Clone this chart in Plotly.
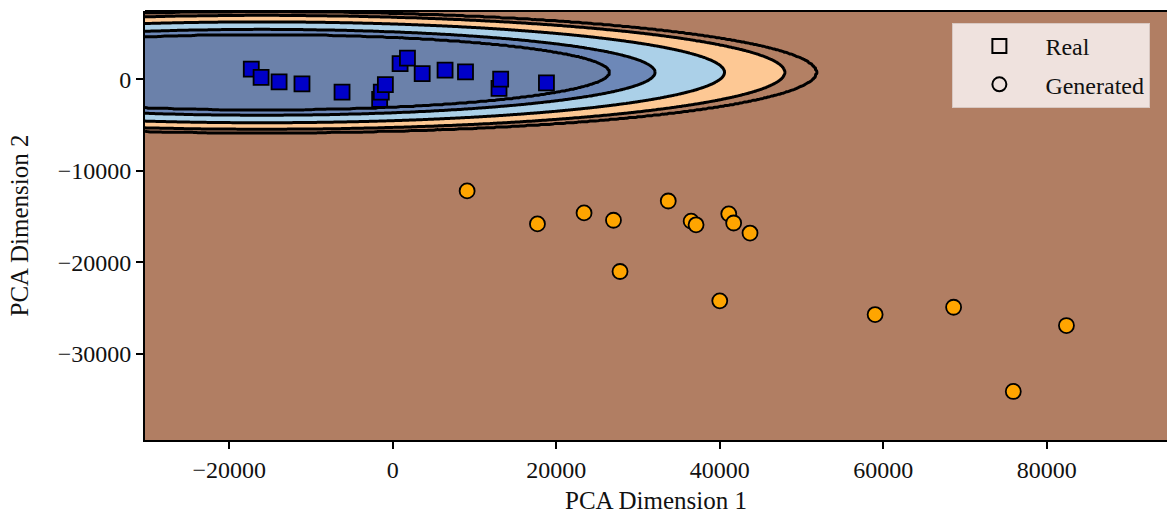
import numpy as np
import plotly.graph_objects as go

# ---- data ----
real_x = [-17300, -16100, -13900, -11100, -6200, -1600, -1400, -900,
          900, 1800, 3600, 6400, 8900, 13000, 13200, 18800]
real_y = [1100, 200, -300, -500, -1400, -2200, -1400, -600,
          1700, 2300, 600, 1000, 800, -1000, 0, -400]

gen_x = [9100, 17700, 23400, 27000, 27800, 33700, 36500, 37100,
         41100, 41700, 43700, 40000, 59000, 68600, 75900, 82400]
gen_y = [-12200, -15800, -14600, -15400, -21000, -13300, -15500, -15900,
         -14700, -15700, -16800, -24200, -25700, -24900, -34100, -26900]

prob_levels = [0.01, 0.05, 0.5, 0.95, 0.99]
x_ticks = [-20000, 0, 20000, 40000, 60000, 80000]
y_ticks = [0, -10000, -20000, -30000]
x_range = [-30300, 94700]
y_range = [-39400, 7450]

band_colors = ["#b17e63", "#b38064", "#fdc894", "#abd0e8", "#6d88b8", "#6b81aa"]

FONT = "Liberation Serif, Times New Roman, serif"

# ---- Gaussian naive-Bayes style probability field from the two classes ----
def fit(xs, ys):
    a = np.array([xs, ys], dtype=float)
    return a.mean(axis=1), a.var(axis=1)

mu_r, var_r = fit(real_x, real_y)
mu_g, var_g = fit(gen_x, gen_y)

gx = np.linspace(x_range[0], x_range[1], 600)
gy = np.linspace(y_range[0], y_range[1], 500)
X, Y = np.meshgrid(gx, gy)

def loglik(mu, var):
    return (-0.5 * (((X - mu[0]) ** 2) / var[0] + ((Y - mu[1]) ** 2) / var[1])
            - 0.5 * np.log(var[0] * var[1]))

L = (loglik(mu_r, var_r) + np.log(len(real_x))
     - loglik(mu_g, var_g) - np.log(len(gen_x)))
pl = np.array(prob_levels)
logit_levels = np.log(pl / (1 - pl))
Z = np.interp(L, np.concatenate([[-25.0], logit_levels, [25.0]]),
              np.arange(len(prob_levels) + 2, dtype=float))

n = len(band_colors)
colorscale = [[i / (n - 1), c] for i, c in enumerate(band_colors)]

fig = go.Figure()
fig.add_trace(go.Contour(
    x=gx, y=gy, z=Z,
    autocontour=False,
    contours=dict(start=1, end=len(prob_levels), size=1, coloring="fill"),
    colorscale=colorscale,
    line=dict(color="black", width=3),
    showscale=False, hoverinfo="skip", showlegend=False,
))

fig.add_trace(go.Scatter(
    x=real_x, y=real_y, mode="markers", showlegend=False,
    marker=dict(symbol="square", size=15, color="#0000c8",
                line=dict(color="black", width=1.8)),
))
fig.add_trace(go.Scatter(
    x=gen_x, y=gen_y, mode="markers", showlegend=False,
    marker=dict(symbol="circle", size=15, color="#ffa500",
                line=dict(color="black", width=1.8)),
))

# legend entries (hollow markers)
fig.add_trace(go.Scatter(
    x=[None], y=[None], mode="markers", name="Real", legendgroup="a",
    marker=dict(symbol="square", size=14, color="rgba(0,0,0,0)",
                line=dict(color="black", width=2)),
))
fig.add_trace(go.Scatter(
    x=[None], y=[None], mode="markers", name="Generated", legendgroup="b",
    marker=dict(symbol="circle", size=14, color="rgba(0,0,0,0)",
                line=dict(color="black", width=2)),
))

def fmt(v):
    return str(v).replace("-", "\u2212")

axis_common = dict(
    showline=True, linecolor="black", linewidth=2, mirror=False,
    ticks="outside", ticklen=7, tickwidth=1.5, tickcolor="black",
    showgrid=False, zeroline=False,
    tickfont=dict(family=FONT, size=24, color="#111111"),
)

fig.update_layout(
    width=1167, height=515,
    margin=dict(l=145, r=0, t=11, b=75),
    paper_bgcolor="white", plot_bgcolor=band_colors[0],
    xaxis=dict(range=x_range, tickvals=x_ticks, ticktext=[fmt(v) for v in x_ticks],
               title=dict(text="PCA Dimension 1", font=dict(family=FONT, size=25, color="#111111"),
                          standoff=10),
               **axis_common),
    yaxis=dict(range=y_range, tickvals=y_ticks, ticktext=[fmt(v) for v in y_ticks],
               title=dict(text="PCA Dimension 2", font=dict(family=FONT, size=25, color="#111111"),
                          standoff=22),
               **axis_common),
    legend=dict(
        x=0.79, y=0.972, xanchor="left", yanchor="top",
        bgcolor="#efe2de", bordercolor="#d8c8c2", borderwidth=1,
        font=dict(family=FONT, size=24, color="#111111"),
        itemwidth=82, tracegroupgap=4, itemsizing="trace",
    ),
    shapes=[dict(type="line", xref="paper", yref="paper", x0=0, x1=1, y0=1, y1=1,
                 line=dict(color="black", width=2), layer="above")],
)

fig.write_html("out.html")
